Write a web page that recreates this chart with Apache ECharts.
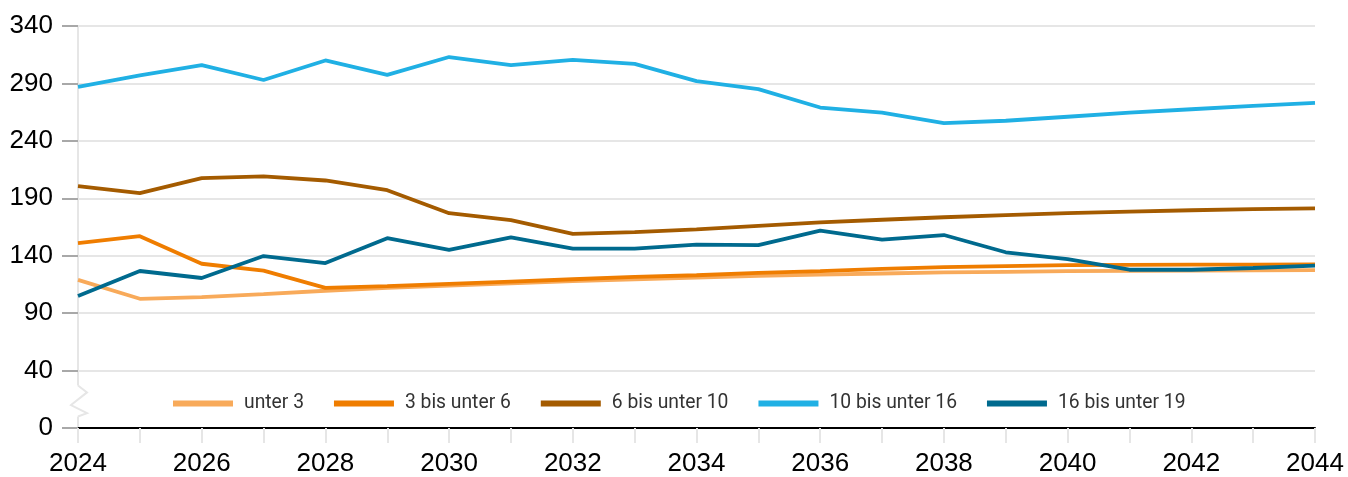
<!DOCTYPE html>
<html>
<head>
<meta charset="utf-8">
<script src="https://cdn.jsdelivr.net/npm/echarts@6/dist/echarts.min.js"></script>
<style>
html,body{margin:0;padding:0;background:#fff;}
#chart{width:1348px;height:477px;}
</style>
</head>
<body>
<div id="chart"></div>
<script>
const years = ['2024','2025','2026','2027','2028','2029','2030','2031','2032','2033','2034','2035','2036','2037','2038','2039','2040','2041','2042','2043','2044'];
const seriesNames = ['unter 3','3 bis unter 6','6 bis unter 10','10 bis unter 16','16 bis unter 19'];
const unter3 = [119,102.5,104,106.5,109.5,112,114,116,118,119.5,121,122.5,123.5,124.5,125.5,126,126.5,126.8,127,127.2,127.5];
const bis6 = [151,157,133,127,112,113.5,115.5,117.5,119.5,121.5,123,125,126.5,128.5,130,131,131.8,132,132.2,132.3,132.5];
const bis10 = [200.5,194.5,207.5,209,205.5,197,177,171,159,160.5,163,166,169,171.3,173.5,175.3,177,178.3,179.6,180.5,181.3];
const bis16 = [287,297,306,293,310,297.5,313,306,310.5,307,292,285,269,264.5,255.5,257.5,261,264.5,267.5,270.5,273];
const bis19 = [105,126.7,120.6,139.7,133.6,155.3,145,156,146.2,146.2,149.7,149.2,161.8,154,158,143,137,127.8,127.8,129.3,131.3];
// y axis with a break: the "0" label sits one 50-step below 40
const yTickValues = [-10,40,90,140,190,240,290,340];
const yTickLabels = ['0','40','90','140','190','240','290','340'];
const colors = ['#f8aa5a','#ef7d00','#a45b00','#20b0e4','#006a8e'];

const chart = echarts.init(document.getElementById('chart'));
const allData = [unter3, bis6, bis10, bis16, bis19];
const option = {
  animation: false,
  color: colors,
  grid: {left: 78, right: 33, top: 26, bottom: 47, containLabel: false},
  legend: {
    left: 168, top: 389,
    icon: 'rect', itemWidth: 60, itemHeight: 6, itemGap: 30,
    textStyle: {fontFamily: 'Roboto', fontSize: 19.3, color: '#333', padding: [0,0,0,6]},
    data: seriesNames
  },
  xAxis: {
    type: 'category', data: years, boundaryGap: false,
    axisLine: {onZero: false, lineStyle: {color: '#000', width: 2}},
    axisTick: {show: true, interval: 0, length: 15, lineStyle: {color: '#e6e6e6', width: 2}},
    axisLabel: {interval: 1, fontFamily: 'Liberation Sans', fontSize: 26, color: '#000', margin: 23},
    splitLine: {show: false}
  },
  yAxis: {
    type: 'value', min: -10, max: 340,
    axisLine: {show: true, lineStyle: {color: '#e6e6e6', width: 2}},
    axisTick: {show: true, inside: false, length: 16, customValues: yTickValues, lineStyle: {color: '#a8a8a8', width: 2}},
    axisLabel: {customValues: yTickValues, margin: 25, fontFamily: 'Liberation Sans', fontSize: 26, color: '#000',
      formatter: function (v) { const i = yTickValues.indexOf(v); return i >= 0 ? yTickLabels[i] : ''; }},
    splitLine: {show: true, lineStyle: {color: '#e6e6e6', width: 2}}
  },
  series: seriesNames.map((n, i) => ({
    name: n, type: 'line', data: allData[i], symbol: 'none',
    lineStyle: {width: 3.8, color: colors[i]}, z: 2 + i
  }))
};
chart.setOption(option);

// axis-break zigzag on the y axis between 0 and 40
const x0 = chart.convertToPixel({xAxisIndex: 0}, years[0]);
const py = v => chart.convertToPixel({yAxisIndex: 0}, v);
const yTop = py(27), yBot = py(0);
chart.setOption({
  graphic: [
    {type: 'rect', z: 100, shape: {x: x0 - 3, y: yTop, width: 6, height: yBot - yTop}, style: {fill: '#fff'}},
    {type: 'polyline', z: 101, shape: {points: [[x0, yTop], [x0 + 9, py(21)], [x0 - 7, py(10)], [x0 + 9, py(3)], [x0, yBot]]},
      style: {stroke: '#e6e6e6', lineWidth: 2, fill: null}}
  ]
});
</script>
</body>
</html>
